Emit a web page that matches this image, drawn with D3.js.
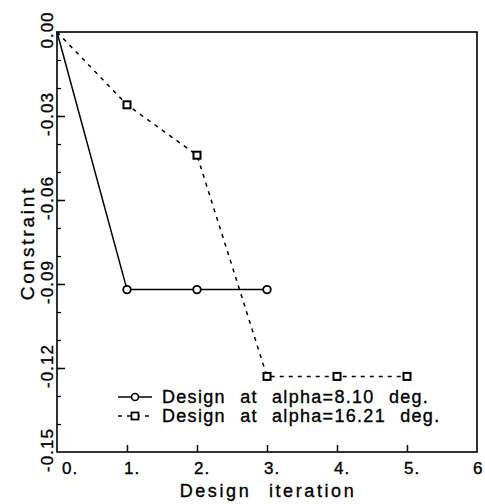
<!DOCTYPE html>
<html>
<head>
<meta charset="utf-8">
<script src="https://cdn.jsdelivr.net/npm/d3@7"></script>
<style>
  body { margin: 0; background: #fff; }
  text { font-family: "Liberation Sans", Arial, sans-serif; fill: #000; stroke: #000; stroke-width: 0.35; }
</style>
</head>
<body>
<div id="chart"></div>
<script>
const iterations1 = [0, 1, 2, 3];
const constraint1 = [0, -0.092, -0.092, -0.092];
const iterations2 = [0, 1, 2, 3, 4, 5];
const constraint2 = [0, -0.026, -0.044, -0.123, -0.123, -0.123];
const xTickValues = [0, 1, 2, 3, 4, 5, 6];
const xTickLabels = ['0.', '1.', '2.', '3.', '4.', '5.', '6'];
const yTickValues = [0, -0.03, -0.06, -0.09, -0.12, -0.15];
const yTickLabels = ['0.00', '-0.03', '-0.06', '-0.09', '-0.12', '-0.15'];
const legendLabels = ['Design at alpha=8.10 deg.', 'Design at alpha=16.21 deg.'];

const svg = d3.select('#chart')
              .append('svg')
              .attr('width', 485)
              .attr('height', 504);

let xScale = d3.scaleLinear().domain([0, 6]).range([57, 477]);
let yScale = d3.scaleLinear().domain([0, -0.15]).range([32, 452]);

// frame
svg.append('rect')
   .attr('x', xScale(0))
   .attr('y', yScale(0))
   .attr('width', xScale(6) - xScale(0))
   .attr('height', yScale(-0.15) - yScale(0))
   .attr('fill', 'none')
   .attr('stroke', '#000')
   .attr('stroke-width', 1.6);

// x axis ticks (inward)
let xAxis = svg.append('g')
   .attr('transform', 'translate(0,' + yScale(-0.15) + ')')
   .call(d3.axisTop(xScale).tickValues(xTickValues.slice(1, 6)).tickSize(7).tickFormat(''));
xAxis.select('.domain').remove();
xAxis.selectAll('line').attr('stroke-width', 1.5);

svg.selectAll('.xlab')
   .data(xTickValues)
   .enter().append('text')
   .attr('x', d => xScale(d) + (d === 0 ? 5 : (d === 6 ? -4 : -3)))
   .attr('y', 474)
   .attr('font-size', 17)
   .attr('letter-spacing', 1)
   .text((d, i) => xTickLabels[i]);

// y axis ticks (inward), minor every 0.01
let yMinor = svg.append('g')
   .attr('transform', 'translate(' + xScale(0) + ',0)')
   .call(d3.axisRight(yScale).tickValues(d3.range(1, 15).map(i => -i / 100)).tickSize(4).tickFormat(''));
yMinor.select('.domain').remove();
yMinor.selectAll('line').attr('stroke-width', 1.2);

let yMajor = svg.append('g')
   .attr('transform', 'translate(' + xScale(0) + ',0)')
   .call(d3.axisRight(yScale).tickValues(yTickValues.slice(1, 5)).tickSize(8).tickFormat(''));
yMajor.select('.domain').remove();
yMajor.selectAll('line').attr('stroke-width', 1.5);

svg.selectAll('.ylab')
   .data(yTickValues)
   .enter().append('text')
   .attr('transform', d => 'translate(53,' + (yScale(d) - 2) + ') rotate(-90)')
   .attr('text-anchor', 'middle')
   .attr('font-size', 17)
   .attr('letter-spacing', 1)
   .text((d, i) => yTickLabels[i]);

// axis titles
svg.append('text')
   .attr('transform', 'translate(34,243) rotate(-90)')
   .attr('text-anchor', 'middle')
   .attr('font-size', 19)
   .attr('letter-spacing', 2.8)
   .text('Constraint');

svg.append('text')
   .attr('x', 268)
   .attr('y', 497)
   .attr('text-anchor', 'middle')
   .attr('font-size', 18)
   .attr('letter-spacing', 2.6)
   .attr('word-spacing', 10)
   .text('Design iteration');

// lines
let line1 = d3.line().x((d, i) => xScale(iterations1[i])).y(d => yScale(d));
let line2 = d3.line().x((d, i) => xScale(iterations2[i])).y(d => yScale(d));

svg.append('path')
   .datum(constraint1)
   .attr('fill', 'none')
   .attr('stroke', '#000')
   .attr('stroke-width', 1.5)
   .attr('d', line1);

svg.append('path')
   .datum(constraint2)
   .attr('fill', 'none')
   .attr('stroke', '#000')
   .attr('stroke-width', 1.5)
   .attr('stroke-dasharray', '4,5')
   .attr('d', line2);

// markers (skip origin)
svg.selectAll('.circ')
   .data(constraint1.slice(1))
   .enter().append('circle')
   .attr('cx', (d, i) => xScale(iterations1[i + 1]))
   .attr('cy', d => yScale(d))
   .attr('r', 3.8)
   .attr('fill', '#fff')
   .attr('stroke', '#000')
   .attr('stroke-width', 1.8);

svg.selectAll('.sq')
   .data(constraint2.slice(1))
   .enter().append('rect')
   .attr('x', (d, i) => xScale(iterations2[i + 1]) - 3.5)
   .attr('y', d => yScale(d) - 3.5)
   .attr('width', 7)
   .attr('height', 7)
   .attr('fill', '#fff')
   .attr('stroke', '#000')
   .attr('stroke-width', 2);

// legend
let legend = svg.append('g');
legend.append('line')
   .attr('x1', 118).attr('x2', 152).attr('y1', 397).attr('y2', 397)
   .attr('stroke', '#000').attr('stroke-width', 1.5);
legend.append('circle')
   .attr('cx', 135).attr('cy', 397).attr('r', 3.5)
   .attr('fill', '#fff').attr('stroke', '#000').attr('stroke-width', 1.6);
legend.append('line')
   .attr('x1', 118).attr('x2', 152).attr('y1', 416).attr('y2', 416)
   .attr('stroke', '#000').attr('stroke-width', 1.5)
   .attr('stroke-dasharray', '4,5');
legend.append('rect')
   .attr('x', 131.5).attr('y', 412.5).attr('width', 7).attr('height', 7)
   .attr('fill', '#fff').attr('stroke', '#000').attr('stroke-width', 1.8);

legend.selectAll('.ltext')
   .data(legendLabels)
   .enter().append('text')
   .attr('x', 162)
   .attr('y', (d, i) => 403 + i * 19)
   .attr('font-size', 18)
   .attr('letter-spacing', 1.3)
   .attr('word-spacing', 8)
   .text(d => d);
</script>
</body>
</html>
